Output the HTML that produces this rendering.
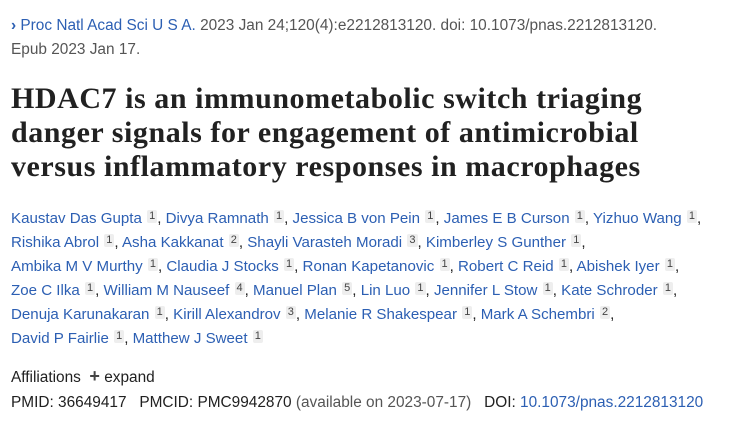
<!DOCTYPE html>
<html><head><meta charset="utf-8"><style>
body{margin:0;width:732px;height:429px;background:#fff;font-family:"Liberation Sans",sans-serif;position:relative;overflow:hidden}
.l{position:absolute;left:11px;white-space:nowrap;font-size:15.4px;color:#212121}
.a{font-size:15.1px}
a{color:#2c5fb3;text-decoration:none}
.s{display:inline-block;background:#eeeeee;color:#444;font-size:11px;line-height:13px;padding:0 2px;vertical-align:4px;margin-left:1px;border-radius:2px}
.t{position:absolute;left:11px;white-space:nowrap;font-family:"Liberation Serif",serif;font-weight:bold;font-size:30px;letter-spacing:0.55px;color:#212121}
.g{color:#555}
</style></head><body>
<div class="l" style="top:17px"><a><span style="font-weight:bold">&#x203A;</span> Proc Natl Acad Sci U S A.</a> <span class="g">2023 Jan 24;120(4):e2212813120. doi: 10.1073/pnas.2212813120.</span></div>
<div class="l g" style="top:41px">Epub 2023 Jan 17.</div>
<div class="t" style="top:82px">HDAC7 is an immunometabolic switch triaging</div>
<div class="t" style="top:116px">danger signals for engagement of antimicrobial</div>
<div class="t" style="top:150px">versus inflammatory responses in macrophages</div>
<div class="l a" style="top:210px"><a>Kaustav Das Gupta</a> <span class="s">1</span>, <a>Divya Ramnath</a> <span class="s">1</span>, <a>Jessica B von Pein</a> <span class="s">1</span>, <a>James E B Curson</a> <span class="s">1</span>, <a>Yizhuo Wang</a> <span class="s">1</span>,</div>
<div class="l a" style="top:234px"><a>Rishika Abrol</a> <span class="s">1</span>, <a>Asha Kakkanat</a> <span class="s">2</span>, <a>Shayli Varasteh Moradi</a> <span class="s">3</span>, <a>Kimberley S Gunther</a> <span class="s">1</span>,</div>
<div class="l a" style="top:258px"><a>Ambika M V Murthy</a> <span class="s">1</span>, <a>Claudia J Stocks</a> <span class="s">1</span>, <a>Ronan Kapetanovic</a> <span class="s">1</span>, <a>Robert C Reid</a> <span class="s">1</span>, <a>Abishek Iyer</a> <span class="s">1</span>,</div>
<div class="l a" style="top:282px"><a>Zoe C Ilka</a> <span class="s">1</span>, <a>William M Nauseef</a> <span class="s">4</span>, <a>Manuel Plan</a> <span class="s">5</span>, <a>Lin Luo</a> <span class="s">1</span>, <a>Jennifer L Stow</a> <span class="s">1</span>, <a>Kate Schroder</a> <span class="s">1</span>,</div>
<div class="l a" style="top:306px"><a>Denuja Karunakaran</a> <span class="s">1</span>, <a>Kirill Alexandrov</a> <span class="s">3</span>, <a>Melanie R Shakespear</a> <span class="s">1</span>, <a>Mark A Schembri</a> <span class="s">2</span>,</div>
<div class="l a" style="top:330px"><a>David P Fairlie</a> <span class="s">1</span>, <a>Matthew J Sweet</a> <span class="s">1</span></div>
<div class="l" style="top:366px">Affiliations &nbsp;<b style="font-size:18px;color:#444">+</b> expand</div>
<div class="l" style="top:394px">PMID: 36649417 &nbsp;&nbsp;PMCID: PMC9942870 <span class="g">(available on 2023-07-17)</span> &nbsp;&nbsp;DOI: <a>10.1073/pnas.2212813120</a></div>
</body></html>
